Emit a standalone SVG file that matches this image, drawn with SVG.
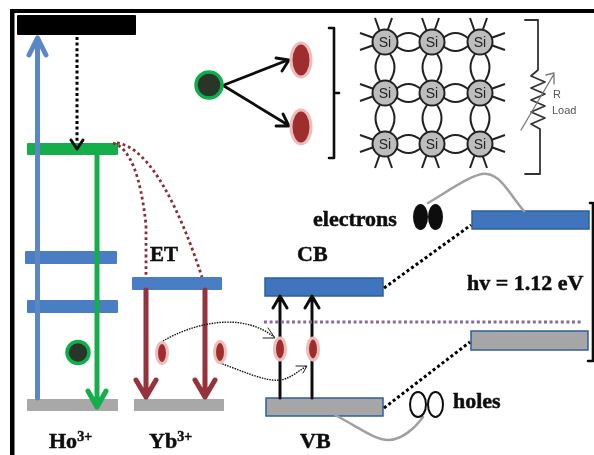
<svg xmlns="http://www.w3.org/2000/svg" width="594" height="455" viewBox="0 0 594 455">
<defs>
<style>
.lbl{font-family:"Liberation Serif","Times New Roman",serif;font-weight:bold;fill:#111;stroke:#111;stroke-width:.5}
.sup{font-size:14px}
.si{fill:#bdbdbd;stroke:#222;stroke-width:2}
.sit{font-family:"Liberation Sans",Arial,sans-serif;font-size:14px;fill:#222;text-anchor:middle}
.bond{fill:none;stroke:#222;stroke-width:2}
.load{font-family:"Liberation Sans",Arial,sans-serif;font-size:11px;fill:#555}
.blue{fill:#4a7ec4}
.bandb{fill:#3f74bd;stroke:#2d5f9a;stroke-width:1.5}
.bandg{fill:#a6a6a6;stroke:#2d5f9a;stroke-width:1.5}
.gray{fill:#a8a8a8}
.dotb{fill:none;stroke:#000;stroke-width:3;stroke-dasharray:3 2.6}
.dotr{fill:none;stroke:#8a2f36;stroke-width:2.8;stroke-dasharray:2.8 3}
.dotf{fill:none;stroke:#111;stroke-width:1.4;stroke-dasharray:1.5 1.1}
.line{fill:none;stroke-linecap:round;stroke-linejoin:round}
.holeo{fill:#9e2f2f;stroke:#efbcbc;stroke-width:3}
.qd{fill:#2b352b;stroke:#0fae4b;stroke-width:3.5}
</style>
<filter id="soft" x="0" y="0" width="100%" height="100%"><feGaussianBlur stdDeviation="0.45"/></filter>
<path id="lh" class="bond" d="M11,-4 Q23.5,-14 36,-4 M11,4 Q23.5,14 36,4"/>
<path id="lv" class="bond" d="M-5,12 Q-14,25 -5,39 M5,12 Q14,25 5,39"/>
<path id="spt" class="bond" d="M-10,-24 L-5,-10 M7,-24 L2,-10"/>
<path id="spb" class="bond" d="M-10,24 L-5,10 M7,24 L2,10"/>
<path id="spl" class="bond" d="M-25,-9 L-11,-4 M-25,8 L-11,3"/>
<path id="spr" class="bond" d="M25,-9 L11,-4 M25,8 L11,3"/>
</defs>
<rect width="594" height="455" fill="#fff"/>
<g filter="url(#soft)">
<g id="frame"><rect x="10" y="9" width="584" height="4"/><rect x="10" y="9" width="4.5" height="446"/></g>

<g id="level-ho-top"><rect x="17" y="15" width="119" height="20" rx="1"/></g>
<g id="level-ho-green"><rect x="27" y="143" width="91" height="12" rx="1" fill="#12ad4c"/></g>
<g id="level-ho-blue1"><rect class="blue" x="25" y="251" width="92" height="13" rx="1"/></g>
<g id="level-ho-blue2"><rect class="blue" x="27" y="300" width="91" height="13" rx="1"/></g>
<g id="level-ho-ground"><rect class="gray" x="27" y="399" width="91" height="12"/></g>
<g id="level-yb-upper"><rect class="blue" x="132" y="277" width="90" height="13" rx="1"/></g>
<g id="level-yb-ground"><rect class="gray" x="134" y="399" width="90" height="12"/></g>
<g id="band-cb"><rect class="bandb" x="265" y="278" width="118" height="18"/></g>
<g id="band-vb"><rect class="bandg" x="266" y="398" width="117" height="18"/></g>
<g id="band-cb-right"><rect class="bandb" x="472" y="211" width="117" height="18"/></g>
<g id="band-vb-right"><rect class="bandg" x="471" y="331" width="117" height="19"/></g>

<g id="connectors">
<path class="line" d="M37.5,398V38M29,55L37.5,38L46,55" stroke="#5b87c5" stroke-width="5"/>
<path class="dotb" d="M77,37V141"/>
<path class="line" d="M71,140L77,149L83,140" stroke="#111" stroke-width="3"/>
<path class="line" d="M97,155V407M88,391L97,407L106,391" stroke="#12ad4c" stroke-width="5"/>
<path class="dotr" d="M113,143Q138,150 146,225V277"/>
<path class="dotr" d="M117,143C150,147 180,210 202,277"/>
<path class="line" d="M146,290V397M136,380L146,397L156,380" stroke="#95333a" stroke-width="5"/>
<path class="line" d="M205,290V397M195,380L205,397L215,380" stroke="#95333a" stroke-width="5"/>
<path class="line" d="M224,85L288,60M276,58L289,60L282,71" stroke="#111" stroke-width="2.8"/>
<path class="line" d="M224,86L288,125M276,126L289,126L283,114" stroke="#111" stroke-width="2.8"/>
<path class="line" d="M280,398V297M273,308L280,296L287,308" stroke="#111" stroke-width="3"/>
<path class="line" d="M312,398V297M305,308L312,296L319,308" stroke="#111" stroke-width="3"/>
<path class="dotf" d="M163,341C190,325 240,310 274,337"/>
<path class="line" d="M263,338H275L268,328" stroke="#222" stroke-width="1"/>
<path class="dotf" d="M220,363C240,370 265,382 280,380C290,379 298,371 307,366"/>
<path class="line" d="M296,366L307,366L303,373" stroke="#222" stroke-width="1"/>
<path d="M264,322H582" fill="none" stroke="#8a6a9a" stroke-width="3" stroke-dasharray="3 2.6"/>
<path class="dotb" d="M384,288L471,225"/>
<path class="dotb" d="M384,408L470,342"/>
<path class="line" d="M428,203C450,190 475,172 487,174C502,176 510,195 524,211" stroke="#a0a0a0" stroke-width="2.5"/>
<path class="line" d="M335,415C360,428 375,440 388,440C402,440 415,428 423,417" stroke="#a0a0a0" stroke-width="2.5"/>
<path class="line" d="M329,28H334V158H329M334,93H339" stroke="#111" stroke-width="2.6"/>
<path class="line" d="M590,203H593V361H588" stroke="#111" stroke-width="2.6"/>
</g>

<g id="photon-ho"><circle class="qd" cx="78" cy="352.5" r="11"/></g>
<g id="photon-top"><circle class="qd" cx="209" cy="85" r="13"/></g>
<g id="carrier-a"><ellipse class="holeo" cx="301" cy="60" rx="10" ry="17"/></g>
<g id="carrier-b"><ellipse class="holeo" cx="301" cy="127" rx="10" ry="17"/></g>
<g id="carrier-c"><ellipse class="holeo" cx="162" cy="353" rx="5.5" ry="10.5"/></g>
<g id="carrier-d"><ellipse class="holeo" cx="220" cy="352" rx="5.5" ry="10.5"/></g>
<g id="carrier-e"><ellipse class="holeo" cx="280" cy="349" rx="5.5" ry="11"/></g>
<g id="carrier-f"><ellipse class="holeo" cx="313" cy="349" rx="5.5" ry="11"/></g>

<g id="si-bonds">
<use href="#lh" x="385" y="42"/><use href="#lh" x="432" y="42"/>
<use href="#lh" x="385" y="93"/><use href="#lh" x="432" y="93"/>
<use href="#lh" x="385" y="144"/><use href="#lh" x="432" y="144"/>
<use href="#lv" x="385" y="42"/><use href="#lv" x="432" y="42"/><use href="#lv" x="480" y="42"/>
<use href="#lv" x="385" y="93"/><use href="#lv" x="432" y="93"/><use href="#lv" x="480" y="93"/>
<use href="#spt" x="385" y="42"/><use href="#spt" x="432" y="42"/><use href="#spt" x="480" y="42"/>
<use href="#spb" x="385" y="144"/><use href="#spb" x="432" y="144"/><use href="#spb" x="480" y="144"/>
<use href="#spl" x="385" y="42"/><use href="#spl" x="385" y="93"/><use href="#spl" x="385" y="144"/>
<use href="#spr" x="480" y="42"/><use href="#spr" x="480" y="93"/><use href="#spr" x="480" y="144"/>
</g>
<g id="si-1"><circle class="si" cx="385" cy="42" r="12.5"/><text class="sit" x="385" y="47">Si</text></g>
<g id="si-2"><circle class="si" cx="432" cy="42" r="12.5"/><text class="sit" x="432" y="47">Si</text></g>
<g id="si-3"><circle class="si" cx="480" cy="42" r="12.5"/><text class="sit" x="480" y="47">Si</text></g>
<g id="si-4"><circle class="si" cx="385" cy="93" r="12.5"/><text class="sit" x="385" y="98">Si</text></g>
<g id="si-5"><circle class="si" cx="432" cy="93" r="12.5"/><text class="sit" x="432" y="98">Si</text></g>
<g id="si-6"><circle class="si" cx="480" cy="93" r="12.5"/><text class="sit" x="480" y="98">Si</text></g>
<g id="si-7"><circle class="si" cx="385" cy="144" r="12.5"/><text class="sit" x="385" y="149">Si</text></g>
<g id="si-8"><circle class="si" cx="432" cy="144" r="12.5"/><text class="sit" x="432" y="149">Si</text></g>
<g id="si-9"><circle class="si" cx="480" cy="144" r="12.5"/><text class="sit" x="480" y="149">Si</text></g>

<g id="load-resistor">
<path class="line" d="M525,20H538V70L531,76L545,82L531,88L545,94L531,100L545,106L531,112L545,118L531,124L540,129V174H525" stroke="#333" stroke-width="1.8"/>
<path class="line" d="M521,130L554,74M546,75L554,73L554,84" stroke="#777" stroke-width="1.3"/>
<text class="load" x="553" y="98">R</text>
<text class="load" x="552" y="114">Load</text>
</g>

<g id="electrons"><text class="lbl" x="313" y="226" font-size="22">electrons</text>
<ellipse cx="420.5" cy="217" rx="7.5" ry="13" fill="#111"/><ellipse cx="435.5" cy="217" rx="7.5" ry="13" fill="#111"/></g>
<g id="holes"><ellipse cx="418" cy="404.5" rx="8" ry="12.5" fill="none" stroke="#111" stroke-width="2"/><ellipse cx="435.5" cy="404.5" rx="7.5" ry="12.5" fill="none" stroke="#111" stroke-width="2"/>
<text class="lbl" x="453" y="408" font-size="22">holes</text></g>
<g id="energy"><text class="lbl" x="467" y="290" font-size="22">hv = 1.12 eV</text></g>
<g id="labels">
<text class="lbl" x="150" y="261" font-size="21">ET</text>
<text class="lbl" x="297" y="261" font-size="22">CB</text>
<text class="lbl" x="300" y="448" font-size="22">VB</text>
<text class="lbl" x="49" y="448" font-size="22">Ho<tspan class="sup" dy="-7">3+</tspan></text>
<text class="lbl" x="149" y="448" font-size="22">Yb<tspan class="sup" dy="-7">3+</tspan></text>
</g>
</g>
</svg>
